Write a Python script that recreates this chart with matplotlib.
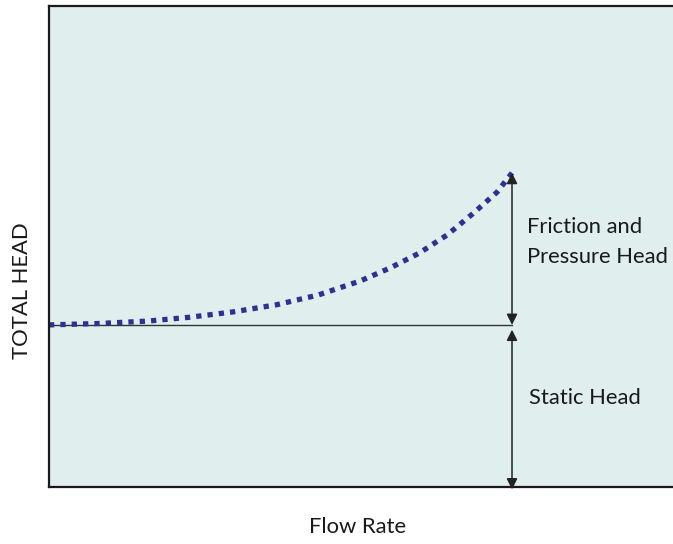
import matplotlib
matplotlib.use("Agg")
import matplotlib.pyplot as plt

# system curve (x: flow, y: head, both 0..100 of the plot box)
flow = [0, 8.2, 15.9, 22.6, 29.5, 36.5, 43.1, 49.8, 54.6, 59.3, 63.8, 67.9, 71.8, 74.2]
head = [33.7, 34.0, 34.5, 35.3, 36.4, 37.9, 39.9, 42.8, 45.5, 48.6, 52.4, 56.8, 61.3, 65.3]
static_head = 33.7

plt.rcParams['font.family'] = ['Lato', 'DejaVu Sans']

fig = plt.figure(figsize=(6.73, 5.44), dpi=100)
ax = fig.add_axes([49 / 673, 1 - 487 / 544, 1 - 49 / 673, (487 - 6) / 544])
ax.set_facecolor('#e1eeee')
ax.set_xlim(0, 100)
ax.set_ylim(0, 100)
ax.set_xticks([])
ax.set_yticks([])
for s in ['left', 'bottom', 'top']:
    ax.spines[s].set_linewidth(1.6)
    ax.spines[s].set_color('#1a1a1a')
ax.spines['right'].set_visible(False)

# static head line
x_end = flow[-1]
ax.plot([0, x_end], [static_head, static_head], color='#333333', lw=1.0)

# curve
ax.plot(flow, head, color='#2e3192', lw=3.8, linestyle=(0, (1, 1.15)),
        dash_capstyle='butt', solid_joinstyle='round')

# arrows
ap = dict(arrowstyle='<|-|>', color='#222222', lw=1.1, mutation_scale=16,
          shrinkA=0, shrinkB=0)
ax.annotate('', xy=(x_end, head[-1]), xytext=(x_end, static_head), arrowprops=ap)
ax.annotate('', xy=(x_end, static_head - 1.0), xytext=(x_end, -0.5), arrowprops=ap)

ax.text(76.6, 50.9, 'Friction and\nPressure Head', fontsize=15.8, va='center',
        ha='left', color='#1a1a1a', linespacing=1.6)
ax.text(76.9, 18.5, 'Static Head', fontsize=15.8, va='center', ha='left',
        color='#1a1a1a')

fig.text(358 / 673, 1 - 527 / 544, 'Flow Rate', fontsize=15.8, ha='center',
         va='center', color='#1a1a1a')
fig.text(22 / 673, 1 - 291 / 544, 'TOTAL HEAD', fontsize=15.8, rotation=90,
         ha='center', va='center', color='#1a1a1a')

fig.savefig('out.png', dpi=100)
